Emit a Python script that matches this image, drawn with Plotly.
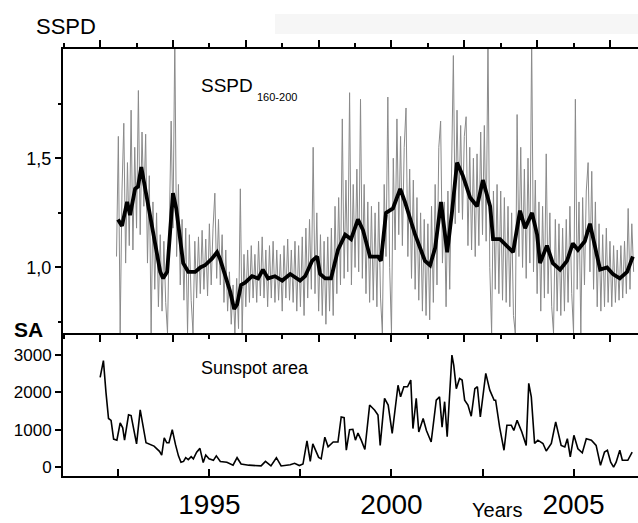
import plotly.graph_objects as go

# ---------------- data ----------------
# smoothed SSPD (black line)
sspd_smooth_years = [1992.49, 1992.60, 1992.74, 1992.82, 1992.96, 1993.04, 1993.13, 1993.24, 1993.37, 1993.51,
                     1993.65, 1993.73, 1993.84, 1993.92, 1994.00, 1994.09, 1994.20, 1994.28, 1994.42, 1994.61,
                     1994.75, 1994.88, 1995.07, 1995.21, 1995.29, 1995.43, 1995.57, 1995.68, 1995.76, 1995.87,
                     1995.98, 1996.17, 1996.34, 1996.47, 1996.61, 1996.80, 1997.00, 1997.22, 1997.49, 1997.63,
                     1997.82, 1997.96, 1998.04, 1998.18, 1998.34, 1998.53, 1998.73, 1998.89, 1999.08, 1999.22,
                     1999.41, 1999.63, 1999.71, 1999.85, 2000.04, 2000.24, 2000.37, 2000.65, 2000.92, 2001.06,
                     2001.20, 2001.36, 2001.53, 2001.66, 2001.80, 2001.96, 2002.16, 2002.35, 2002.51, 2002.71,
                     2002.79, 2002.98, 2003.17, 2003.34, 2003.53, 2003.67, 2003.86, 2004.00, 2004.08, 2004.27,
                     2004.43, 2004.63, 2004.82, 2004.98, 2005.12, 2005.31, 2005.45, 2005.59, 2005.73, 2005.92,
                     2006.08, 2006.27, 2006.47, 2006.63]
sspd_smooth = [1.22, 1.19, 1.30, 1.24, 1.36, 1.37, 1.46, 1.36, 1.22, 1.10,
               0.98, 0.95, 0.98, 1.16, 1.34, 1.27, 1.13, 1.02, 0.98, 0.98,
               1.00, 1.01, 1.04, 1.07, 1.04, 0.96, 0.89, 0.81, 0.83, 0.92,
               0.93, 0.96, 0.95, 0.99, 0.95, 0.96, 0.94, 0.97, 0.94, 0.96,
               1.03, 1.05, 0.97, 0.95, 0.95, 1.08, 1.15, 1.13, 1.22, 1.17,
               1.05, 1.05, 1.03, 1.25, 1.27, 1.36, 1.30, 1.15, 1.03, 1.01,
               1.09, 1.30, 1.07, 1.25, 1.48, 1.42, 1.32, 1.28, 1.40, 1.28,
               1.13, 1.13, 1.10, 1.07, 1.26, 1.18, 1.25, 1.15, 1.02, 1.10,
               1.02, 0.99, 1.03, 1.11, 1.08, 1.12, 1.20, 1.09, 0.99, 1.00,
               0.97, 0.95, 0.98, 1.05]

# raw SSPD 160-200 (grey), half-monthly samples
sspd_raw_start = 1992.45
sspd_raw_step = 0.05
sspd_raw = [1.05, 1.60, 0.70, 1.35, 1.66, 1.02, 1.48, 1.10, 1.72, 1.08,
            1.55, 1.18, 1.81, 1.15, 1.62, 1.28, 1.61, 1.02, 1.42, 0.70,
            1.30, 0.90, 1.25, 0.82, 1.15, 0.80, 1.12, 0.84, 0.70, 1.25,
            1.67, 1.18, 2.05, 1.05, 1.38, 0.92, 1.22, 0.85, 1.18, 0.70,
            1.15, 0.85, 0.70, 1.12, 0.86, 1.14, 0.88, 1.17, 0.90, 1.13,
            0.87, 1.20, 0.92, 1.18, 1.34, 0.95, 1.22, 0.92, 1.15, 0.84,
            1.08, 0.80, 0.98, 0.74, 0.92, 0.70, 0.95, 0.72, 1.36, 0.70,
            1.06, 0.82, 1.08, 0.84, 1.10, 0.86, 1.06, 0.84, 1.12, 0.87,
            1.14, 0.86, 1.08, 0.82, 1.10, 0.86, 1.12, 0.84, 1.08, 0.85,
            1.06, 0.80, 1.10, 0.86, 1.13, 0.85, 1.08, 0.84, 1.12, 0.80,
            1.10, 0.82, 1.14, 0.78, 1.18, 0.86, 1.22, 0.90, 1.55, 0.88,
            1.25, 0.80, 1.15, 0.78, 1.12, 0.74, 1.14, 0.80, 1.18, 0.78,
            1.28, 0.88, 1.32, 0.92, 1.68, 0.95, 1.40, 0.98, 1.80, 0.92,
            1.38, 1.00, 1.45, 0.98, 1.77, 0.95, 1.38, 0.88, 1.30, 0.84,
            1.28, 0.85, 1.25, 0.82, 1.30, 0.86, 0.70, 1.38, 1.05, 1.78,
            1.00, 0.70, 1.50, 1.08, 1.68, 1.15, 1.60, 1.10, 1.55, 1.73,
            1.05, 1.45, 0.95, 1.40, 0.90, 1.32, 0.85, 1.25, 0.80, 1.22,
            0.78, 1.20, 0.76, 1.28, 0.84, 1.38, 0.92, 1.55, 1.67, 1.02,
            1.30, 0.82, 1.35, 0.90, 1.55, 1.97, 1.20, 1.72, 1.25, 1.65,
            1.22, 1.60, 1.69, 1.10, 1.55, 1.08, 1.50, 1.05, 1.52, 1.10,
            1.62, 1.15, 1.65, 1.12, 2.05, 1.00, 0.70, 1.35, 0.90, 1.38,
            0.88, 1.35, 0.85, 1.32, 0.84, 1.28, 0.82, 1.25, 0.78, 0.70,
            1.70, 1.05, 1.55, 1.00, 1.45, 0.95, 1.50, 1.02, 2.05, 0.98,
            1.40, 0.88, 1.30, 0.80, 1.28, 0.86, 1.52, 0.88, 1.25, 0.82,
            0.70, 1.22, 0.80, 1.20, 0.78, 1.18, 0.80, 1.22, 0.84, 1.28,
            0.88, 0.70, 1.77, 0.90, 1.30, 0.70, 1.32, 0.92, 1.35, 1.48,
            0.98, 1.44, 0.90, 1.30, 0.82, 1.20, 0.80, 1.15, 0.82, 1.18,
            0.84, 1.12, 0.82, 1.10, 0.84, 1.08, 0.85, 1.10, 0.86, 1.12,
            0.88, 1.27, 0.90, 1.20, 0.98]
sspd_raw_years = [sspd_raw_start + sspd_raw_step * i for i in range(len(sspd_raw))]

# sunspot area
sa_years = [1992.00, 1992.09, 1992.16, 1992.23, 1992.30, 1992.37, 1992.46, 1992.55, 1992.62, 1992.67,
            1992.78, 1992.85, 1993.00, 1993.10, 1993.26, 1993.42, 1993.48, 1993.63, 1993.69, 1993.76,
            1993.83, 1993.89, 1993.98, 1994.07, 1994.15, 1994.22, 1994.29, 1994.35, 1994.42, 1994.50,
            1994.56, 1994.65, 1994.74, 1994.83, 1994.90, 1994.99, 1995.11, 1995.19, 1995.30, 1995.48,
            1995.65, 1995.76, 1995.87, 1996.08, 1996.31, 1996.42, 1996.54, 1996.69, 1996.84, 1996.97,
            1997.22, 1997.34, 1997.47, 1997.57, 1997.68, 1997.77, 1997.84, 1997.93, 1998.00, 1998.07,
            1998.17, 1998.26, 1998.40, 1998.53, 1998.62, 1998.70, 1998.76, 1998.85, 1998.94, 1999.01,
            1999.08, 1999.17, 1999.27, 1999.40, 1999.54, 1999.63, 1999.69, 1999.81, 1999.91, 2000.02,
            2000.18, 2000.25, 2000.34, 2000.44, 2000.53, 2000.59, 2000.68, 2000.75, 2000.87, 2000.96,
            2001.09, 2001.23, 2001.32, 2001.39, 2001.46, 2001.53, 2001.66, 2001.71, 2001.78, 2001.87,
            2001.94, 2002.01, 2002.10, 2002.19, 2002.29, 2002.36, 2002.44, 2002.59, 2002.70, 2002.82,
            2002.86, 2002.97, 2003.09, 2003.17, 2003.29, 2003.36, 2003.45, 2003.58, 2003.70, 2003.77,
            2003.84, 2003.93, 2004.02, 2004.16, 2004.25, 2004.39, 2004.51, 2004.66, 2004.76, 2004.83,
            2004.91, 2005.01, 2005.12, 2005.24, 2005.35, 2005.49, 2005.62, 2005.74, 2005.85, 2005.93,
            2006.02, 2006.10, 2006.17, 2006.27, 2006.34, 2006.49, 2006.61]
sa_vals = [2400, 2850, 2000, 1300, 1250, 750, 720, 1180, 1050, 720,
           1400, 1380, 620, 1530, 650, 570, 560, 420, 320, 780,
           650, 650, 1000, 600, 300, 130, 150, 250, 200, 280,
           220, 400, 500, 120, 320, 220, 180, 300, 150, 130,
           50, 250, 80, 50, 30, 30, 150, 30, 250, 30,
           60, 100, 40, 80, 700, 150, 620, 400, 260, 220,
           800, 540, 670, 670, 1340, 1320, 450, 1000, 1010, 720,
           910, 720, 470, 1660, 1520, 1390, 580, 1840, 1660, 900,
           2190, 1880, 2150, 2150, 2330, 1030, 1840, 940, 1300, 980,
           670, 1790, 1880, 1070, 1750, 810, 3000, 2730, 2100, 2370,
           2330, 1790, 1660, 1360, 2100, 2150, 1340, 2510, 2060, 1790,
           1790, 1070, 450, 1120, 1120, 980, 1250, 940, 580, 2240,
           1880, 630, 720, 630, 430, 630, 1210, 580, 540, 760,
           270, 850, 490, 380, 760, 720, 580, 45, 400, 450,
           130, 0, 130, 450, 180, 180, 400]

# axis ticks
sspd_tickvals = [1.0, 1.5]
sspd_ticktext = ["1,0", "1,5"]
sspd_minor = [0.75, 1.25, 1.75]
sa_tickvals = [0, 1000, 2000, 3000]
year_tickvals = [1992.5, 1995, 1997.5, 2000, 2002.5, 2005]
year_ticktext = ["", "1995", "", "2000", "", "2005"]

# ---------------- figure ----------------
FONT = "Liberation Sans, Arial, sans-serif"
W, H = 638, 523
ML, MR, MT, MB = 63, 0, 49, 47
PW, PH = W - ML - MR, H - MT - MB

def px(x):
    return (x - ML) / PW

def py(y):
    return (H - MB - y) / PH

split = 143 / PH
xrange_ = [1990.98, 2006.77]

fig = go.Figure()
fig.add_trace(go.Scatter(x=sspd_raw_years, y=sspd_raw, mode="lines",
                         line=dict(color="#8a8a8a", width=1), xaxis="x", yaxis="y",
                         hoverinfo="skip", showlegend=False))
fig.add_trace(go.Scatter(x=sspd_smooth_years, y=sspd_smooth, mode="lines",
                         line=dict(color="black", width=3.8), xaxis="x", yaxis="y",
                         showlegend=False))
fig.add_trace(go.Scatter(x=sa_years, y=sa_vals, mode="lines",
                         line=dict(color="black", width=1.6), xaxis="x2", yaxis="y2",
                         showlegend=False))

axis_common = dict(showgrid=False, zeroline=False, showline=True, linecolor="black",
                   linewidth=2, tickcolor="black", tickwidth=2)

fig.update_layout(
    width=W, height=H,
    margin=dict(l=ML, r=MR, t=MT, b=MB),
    paper_bgcolor="white", plot_bgcolor="white",
    font=dict(family=FONT, color="black"),
    xaxis=dict(domain=[0, 1], anchor="y", range=xrange_, showticklabels=False,
               mirror="ticks", ticks="outside", tickmode="linear", tick0=1992, dtick=2,
               ticklen=7,
               minor=dict(ticks="outside", tickmode="linear", tick0=1991, dtick=1,
                          ticklen=4, tickwidth=1.5, tickcolor="black"),
               **axis_common),
    yaxis=dict(domain=[split, 1], anchor="x", range=[0.70, 2.0],
               tickmode="array", tickvals=sspd_tickvals, ticktext=sspd_ticktext,
               ticks="outside", ticklen=6, tickfont=dict(size=18),
               minor=dict(ticks="outside", tickmode="array", tickvals=sspd_minor,
                          ticklen=3, tickwidth=1.5, tickcolor="black"),
               **axis_common),
    xaxis2=dict(domain=[0, 1], anchor="y2", range=xrange_, matches="x",
                tickmode="array", tickvals=year_tickvals, ticktext=year_ticktext,
                ticks="inside", ticklen=7, tickfont=dict(size=28),
                ticklabelstandoff=2,
                **axis_common),
    yaxis2=dict(domain=[0, split], anchor="x2", range=[-240, 3590],
                tickmode="array", tickvals=sa_tickvals,
                ticks="outside", ticklen=6, tickfont=dict(size=17),
                **axis_common),
    shapes=[dict(type="rect", xref="paper", yref="paper", x0=px(275), x1=1.0,
                 y0=py(34), y1=py(14), fillcolor="#f6f6f6", line=dict(width=0),
                 layer="below")],
)

ann = [
    dict(text="SSPD", x=px(66), y=py(27), size=22, bold=False),
    dict(text="SA", x=px(28), y=py(329), size=21, bold=True),
    dict(text="Sunspot area", x=px(255), y=py(368), size=18, bold=False),
    dict(text="Years", x=px(497), y=py(510), size=20, bold=False),
]
for a in ann:
    t = "<b>%s</b>" % a["text"] if a["bold"] else a["text"]
    fig.add_annotation(text=t, x=a["x"], y=a["y"], xref="paper", yref="paper",
                       xanchor="center", yanchor="middle", showarrow=False,
                       font=dict(size=a["size"], family=FONT, color="black"))
fig.add_annotation(text="SSPD", x=px(199), y=py(85), xref="paper", yref="paper",
                   xanchor="left", yanchor="middle", showarrow=False,
                   font=dict(size=19, family=FONT, color="black"))
fig.add_annotation(text="160-200", x=px(255), y=py(97), xref="paper", yref="paper",
                   xanchor="left", yanchor="middle", showarrow=False,
                   font=dict(size=11, family=FONT, color="black"))

fig.write_html("out.html",
               config={"displayModeBar": False},
               post_script="document.body.style.margin='0px';document.body.style.overflow='hidden';")
